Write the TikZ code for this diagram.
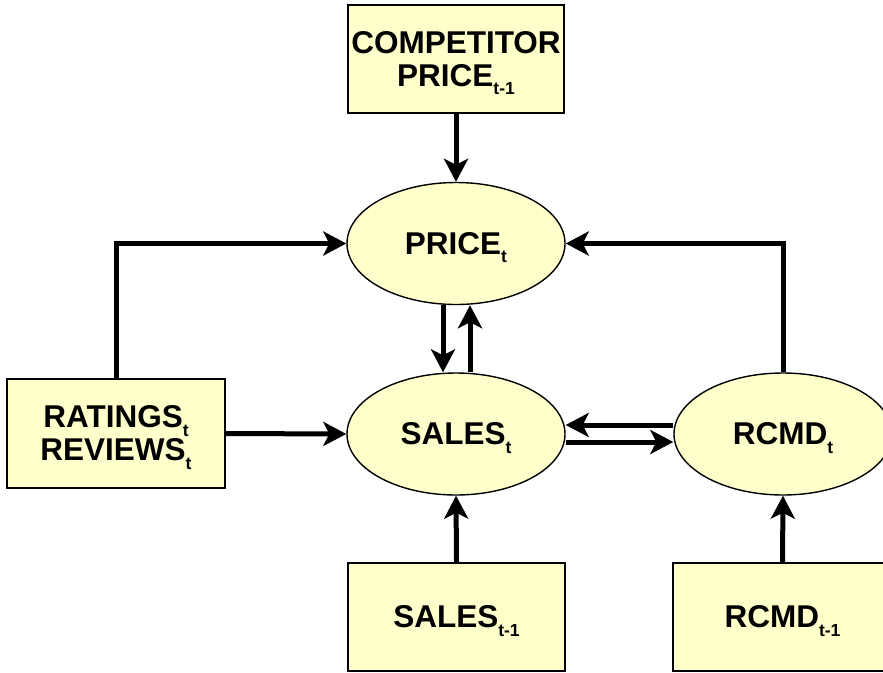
\documentclass[tikz,border=0pt]{standalone}
\usepackage{fontspec}
\setmainfont{Liberation Sans}
\usetikzlibrary{shapes.geometric,arrows.meta}
\definecolor{paleyellow}{HTML}{FFFFCC}
\newcommand{\lowsub}[1]{\raisebox{-8.5pt}[0pt][0pt]{\fontsize{17.5}{17.5}\selectfont #1}}
\begin{document}
\begin{tikzpicture}[x=1pt,y=-1pt,
  box/.style={draw=black, line width=1.4pt, fill=paleyellow, rectangle, inner sep=0pt,
    font=\fontsize{31.5}{33}\selectfont\bfseries, align=center},
  oval/.style={draw=black, line width=1.4pt, fill=paleyellow, ellipse, inner sep=0pt,
    minimum width=218pt, minimum height=122pt, font=\fontsize{31.5}{33}\selectfont\bfseries},
  link/.style={line width=5pt, -{Stealth[length=23pt,width=24pt,inset=6pt]}}]
\useasboundingbox (0,0) rectangle (883,672);
\node[box, minimum width=216pt, minimum height=108pt] (comp) at (456,59) {COMPETITOR\\PRICE\lowsub{t-1}};
\node[oval] (pr) at (456,243.5) {PRICE\lowsub{t}};
\node[oval] (sa) at (456,434) {SALES\lowsub{t}};
\node[oval] (rc) at (783,434) {RCMD\lowsub{t}};
\node[box, minimum width=218pt, minimum height=109pt] (rat) at (116,433.5) {RATINGS\lowsub{t}\\REVIEWS\lowsub{t}};
\node[box, minimum width=217pt, minimum height=108pt] (sprev) at (456.5,617) {SALES\lowsub{t-1}};
\node[box, minimum width=219pt, minimum height=108pt] (rprev) at (782.5,617) {RCMD\lowsub{t-1}};
\draw[link] (comp.south) -- (pr.north);
\draw[link] (rat.north) |- (pr.west);
\draw[link] (rat.east) -- (sa.west);
\draw[link] ([xshift=-13pt]pr.south) -- ([xshift=-13pt]sa.north);
\draw[link] ([xshift=14pt]sa.north) -- ([xshift=14pt]pr.south);
\draw[link] ([yshift=9pt]rc.west) -- ([yshift=9pt]sa.east);
\draw[link] ([yshift=-8pt]sa.east) -- ([yshift=-8pt]rc.west);
\draw[link] (rc.north) |- (pr.east);
\draw[link] (sprev.north) -- (sa.south);
\draw[link] (rprev.north) -- (rc.south);
\end{tikzpicture}
\end{document}
